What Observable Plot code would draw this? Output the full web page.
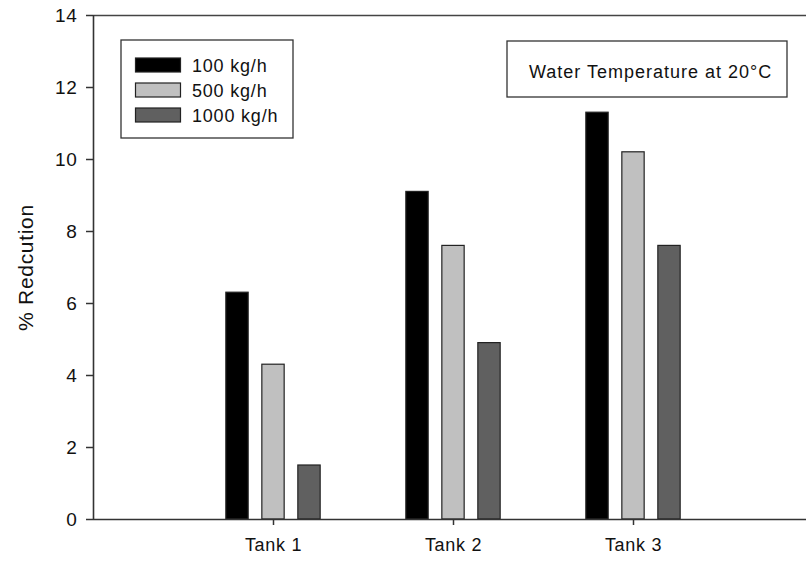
<!DOCTYPE html>
<html>
<head>
<meta charset="utf-8">
<script src="https://cdn.jsdelivr.net/npm/d3@7"></script>
<script src="https://cdn.jsdelivr.net/npm/@observablehq/plot@0.6"></script>
<style>
  html, body { margin: 0; padding: 0; background: #fff; }
  #chart { width: 806px; height: 563px; }
  svg text { font-family: "Liberation Sans", Arial, sans-serif; }
</style>
</head>
<body>
<div id="chart"></div>
<script>
// ---- data ----
const tanks = ["Tank 1", "Tank 2", "Tank 3"];
const series = ["100 kg/h", "500 kg/h", "1000 kg/h"];
const colors = ["#000000", "#c0c0c0", "#606060"];
const values100 = [6.3, 9.1, 11.3];
const values500 = [4.3, 7.6, 10.2];
const values1000 = [1.5, 4.9, 7.6];
const yTicks = [0, 2, 4, 6, 8, 10, 12, 14];
const yLabel = "% Redcution";
const note = "Water Temperature at 20°C";

const seriesValues = [values100, values500, values1000];
const data = [];
tanks.forEach((t, i) => {
  seriesValues.forEach((vals, s) => {
    data.push({tank: t, pos: i + 1, s, series: series[s], value: vals[i]});
  });
});

const offsets = [-0.2, 0, 0.2];
const halfW = 0.062;

const chart = Plot.plot({
  width: 806,
  height: 563,
  marginLeft: 93,
  marginRight: -7,
  marginTop: 15,
  marginBottom: 44,
  style: {fontFamily: "Liberation Sans, Arial, sans-serif", color: "#111", background: "#fff", overflow: "visible"},
  x: {domain: [0, 4], axis: null},
  y: {domain: [0, 14], axis: null},
  color: {domain: series, range: colors},
  marks: [
    Plot.rect(data, {
      x1: d => d.pos + offsets[d.s] - halfW,
      x2: d => d.pos + offsets[d.s] + halfW,
      y1: 0,
      y2: "value",
      fill: "series",
      stroke: "#222",
      strokeWidth: 1.2
    }),
    Plot.axisY({ticks: yTicks, tickSize: 7, tickPadding: 9, fontSize: 19, label: null, stroke: "#333", strokeWidth: 1.5}),
    Plot.axisX({ticks: [1, 2, 3], tickFormat: d => tanks[d - 1], tickSize: 6, tickPadding: 13, fontSize: 18, label: null, stroke: "#333", strokeWidth: 1.5}),
    Plot.ruleY([0], {stroke: "#333", strokeWidth: 1.6}),
    Plot.ruleY([14], {stroke: "#444", strokeWidth: 1.4}),
    Plot.ruleX([0], {stroke: "#333", strokeWidth: 1.6}),
    Plot.text([yLabel], {frameAnchor: "left", textAnchor: "middle", dx: -67, rotate: -90, fontSize: 21, fill: "#111", text: d => d})
  ]
});

document.getElementById("chart").appendChild(chart);

// ---- legend & annotation boxes (layout in pixels) ----
const svg = d3.select(chart);
svg.selectAll("text").style("letter-spacing", "0.7px");

const lg = svg.append("g").attr("text-anchor", "start");
lg.append("rect").attr("x", 121).attr("y", 40).attr("width", 172).attr("height", 98)
  .attr("fill", "#fff").attr("stroke", "#333").attr("stroke-width", 1.3);
series.forEach((name, i) => {
  const y0 = 58 + i * 25;
  lg.append("rect").attr("x", 135.5).attr("y", y0).attr("width", 45).attr("height", 14)
    .attr("fill", colors[i]).attr("stroke", "#222").attr("stroke-width", 1.2);
  lg.append("text").attr("x", 192).attr("y", y0 + 13.5).attr("font-size", 18)
    .attr("text-anchor", "start")
    .attr("fill", "#111").style("letter-spacing", "0.8px").text(name);
});

const nb = svg.append("g").attr("text-anchor", "start");
nb.append("rect").attr("x", 507).attr("y", 41).attr("width", 280).attr("height", 56)
  .attr("fill", "#fff").attr("stroke", "#333").attr("stroke-width", 1.3);
nb.append("text").attr("x", 529).attr("y", 77.5).attr("font-size", 18)
  .attr("text-anchor", "start")
  .attr("fill", "#111").style("letter-spacing", "1px").text(note);
</script>
</body>
</html>
